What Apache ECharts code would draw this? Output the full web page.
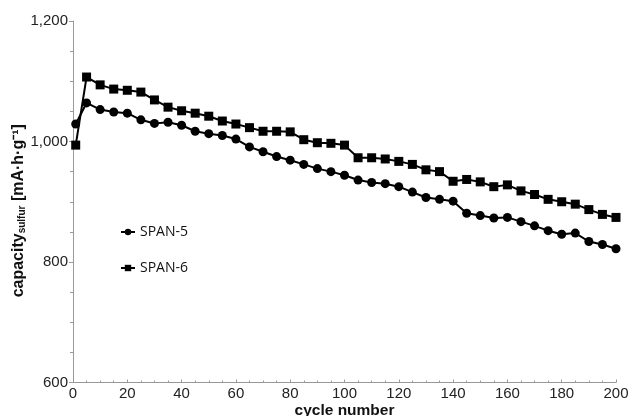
<!DOCTYPE html>
<html>
<head>
<meta charset="utf-8">
<script src="https://cdn.jsdelivr.net/npm/echarts@6/dist/echarts.min.js"></script>
<style>html,body{margin:0;padding:0;background:#fff}#c{width:630px;height:416px}</style>
</head>
<body>
<div id="c"></div>
<script>
var cycles = [1,5,10,15,20,25,30,35,40,45,50,55,60,65,70,75,80,85,90,95,100,105,110,115,120,125,130,135,140,145,150,155,160,165,170,175,180,185,190,195,200];
var span5 = [1029,1064,1053,1049,1047,1036,1030,1032,1027,1017,1013,1010,1004,991,983,975,969,962,955,950,944,936,932,930,925,916,907,904,901,881,877,873,874,867,860,852,846,848,834,829,822];
var span6 = [994,1107,1094,1087,1085,1082,1069,1057,1051,1047,1042,1034,1029,1023,1017,1017,1016,1003,998,997,994,973,973,971,967,962,953,950,934,937,933,925,928,918,912,904,900,896,887,879,874];
var seriesNames = ['SPAN-5','SPAN-6'];

function pairs(ys){ return cycles.map(function(c,i){ return [c, ys[i]]; }); }

var chart = echarts.init(document.getElementById('c'), null, {renderer:'canvas'});
var font = 'Liberation Sans, Arial, sans-serif';
chart.setOption({
  animation: false,
  backgroundColor: '#fff',
  grid: {left: 73, right: 14, top: 21, bottom: 33.5, containLabel: false, outerBoundsMode: 'none'},
  legend: {
    orient: 'vertical', left: 115, top: 220, itemGap: 22, itemWidth: 14, itemHeight: 8,
    data: seriesNames,
    textStyle: {fontFamily: 'Open Sans, sans-serif', fontSize: 14, color: '#111'}
  },
  xAxis: {
    type: 'value', min: 0, max: 200, interval: 20,
    name: 'cycle number', nameLocation: 'middle', nameGap: 20, nameMoveOverlap: false,
    nameTextStyle: {fontFamily: font, fontSize: 15.5, fontWeight: 'bold', color: '#111', verticalAlign: 'top'},
    axisLine: {show: true, lineStyle: {color: '#999', width: 1}},
    axisTick: {show: true, inside: true, length: 3, lineStyle: {color: '#999'}},
    minorTick: {show: true, splitNumber: 4, length: 2, lineStyle: {color: '#999'}},
    axisLabel: {fontFamily: font, fontSize: 15, color: '#222', margin: 4},
    splitLine: {show: false}
  },
  yAxis: {
    type: 'value', min: 600, max: 1200, interval: 200,
    name: '{a|capacity}{s|sulfur}{a| [mA·h·g⁻¹]}', nameLocation: 'middle', nameGap: 46, nameRotate: 90, nameMoveOverlap: false,
    nameTextStyle: {
      padding: [0, 18, 0, 0],
      rich: {
        a: {fontFamily: font, fontSize: 16, fontWeight: 'bold', color: '#111'},
        s: {fontFamily: font, fontSize: 10, fontWeight: 'bold', color: '#111', verticalAlign: 'bottom', padding: [6,0,0,0]}
      }
    },
    axisLine: {show: true, lineStyle: {color: '#999', width: 1}},
    axisTick: {show: true, inside: false, length: 4, lineStyle: {color: '#999'}},
    minorTick: {show: true, splitNumber: 4, length: 3, lineStyle: {color: '#999'}},
    axisLabel: {fontFamily: font, fontSize: 15, color: '#222', margin: 5},
    splitLine: {show: false}
  },
  series: [
    {name: seriesNames[0], type: 'line', data: pairs(span5), symbol: 'circle', symbolSize: 9,
     lineStyle: {color: '#000', width: 2}, itemStyle: {color: '#000'}},
    {name: seriesNames[1], type: 'line', data: pairs(span6), symbol: 'rect', symbolSize: 9,
     lineStyle: {color: '#000', width: 2}, itemStyle: {color: '#000'}}
  ]
});
</script>
</body>
</html>
